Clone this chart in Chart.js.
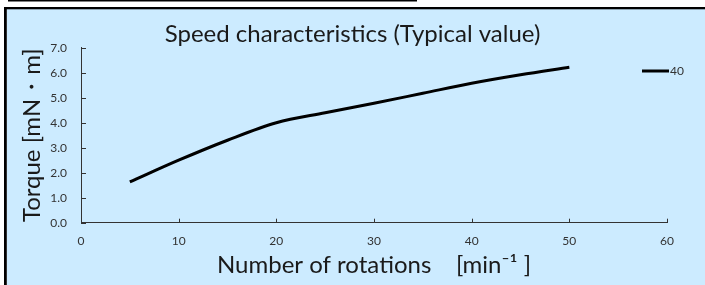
<!DOCTYPE html>
<html>
<head>
<meta charset="utf-8">
<script src="https://cdn.jsdelivr.net/npm/chart.js@4.4.1/dist/chart.umd.min.js"></script>
<style>
  html, body { margin: 0; padding: 0; background: #fff; }
  #wrap { width: 705px; height: 285px; position: relative; }
</style>
</head>
<body>
<div id="wrap"><canvas id="c"></canvas></div>
<script>
// speed characteristics, torque vs rotations
var rotations = [5, 10, 15, 20, 25, 30, 35, 40, 45, 50]
var torque = [1.63, 2.5, 3.3, 4.0, 4.4, 4.78, 5.18, 5.58, 5.92, 6.22]
var seriesLabel = "40"

var xTicks = [0, 10, 20, 30, 40, 50, 60]
var yTicks = [0, 1, 2, 3, 4, 5, 6, 7]

var bg_color = "#CCEBFF"
var text_color = "#333333"
var font_family = "Lato, 'Open Sans', sans-serif"

// panel background + black frame like the sheet it came from
const framePlugin = {
    id: 'frame',
    beforeDraw: (chart) => {
        const {ctx} = chart
        ctx.save()
        ctx.fillStyle = "#fff"
        ctx.fillRect(0, 0, chart.width, chart.height)
        ctx.fillStyle = bg_color
        ctx.fillRect(7, 9, chart.width - 7, chart.height - 9)
        ctx.fillStyle = "#000"
        ctx.fillRect(8, 0, 409, 1.5)
        ctx.fillRect(4, 7, chart.width - 4, 2.3)
        ctx.fillRect(4, 7, 2.8, chart.height - 7)
        ctx.restore()
    }
}

// small tick marks pointing into the plot
const innerTicks = {
    id: 'innerTicks',
    afterDatasetsDraw: (chart) => {
        const {ctx, chartArea} = chart
        const xs = chart.scales.x, ys = chart.scales.y
        ctx.save()
        ctx.strokeStyle = text_color
        ctx.lineWidth = 1
        ctx.beginPath()
        xTicks.forEach(v => {
            const px = Math.round(xs.getPixelForValue(v)) + 0.5
            ctx.moveTo(px, chartArea.bottom)
            ctx.lineTo(px, chartArea.bottom - 4)
        })
        yTicks.forEach(v => {
            const py = Math.round(ys.getPixelForValue(v)) + 0.5
            ctx.moveTo(chartArea.left, py)
            ctx.lineTo(chartArea.left + 5, py)
        })
        ctx.stroke()
        ctx.restore()
    }
}

// legend sample sitting at the right edge
const sideLegend = {
    id: 'sideLegend',
    afterDraw: (chart) => {
        const {ctx} = chart
        const ds = chart.data.datasets[0]
        ctx.save()
        ctx.strokeStyle = ds.borderColor
        ctx.lineWidth = 3
        ctx.beginPath()
        ctx.moveTo(642, 71)
        ctx.lineTo(669, 71)
        ctx.stroke()
        ctx.fillStyle = text_color
        ctx.font = "12px " + font_family
        ctx.textBaseline = "middle"
        ctx.fillText(ds.label, 670, 71.5)
        ctx.restore()
    }
}

var config = {
    type: 'line',
    data: {
        datasets: [{
            label: seriesLabel,
            data: rotations.map((r, i) => ({x: r, y: torque[i]})),
            borderColor: "#000",
            borderWidth: 3,
            pointRadius: 0,
            cubicInterpolationMode: 'monotone',
            fill: false
        }]
    },
    options: {
        responsive: true,
        maintainAspectRatio: false,
        animation: false,
        layout: { padding: 0 },
        plugins: {
            legend: { display: false },
            tooltip: { enabled: false },
            title: {
                display: true,
                text: "Speed characteristics (Typical value)",
                color: "#1a1a1a",
                font: { family: font_family, size: 24, weight: 'normal', lineHeight: 1.15 },
                padding: { top: 20.2, bottom: 0 }
            }
        },
        scales: {
            x: {
                type: 'linear',
                min: 0, max: 60,
                afterFit: s => { s.height = 62.3 },
                afterBuildTicks: s => { s.ticks = xTicks.map(v => ({value: v})) },
                grid: { drawOnChartArea: false, drawTicks: false },
                border: { display: true, color: text_color, width: 1 },
                ticks: { color: text_color, padding: 11, maxRotation: 0,
                         font: { family: font_family, size: 12 } },
                title: {
                    display: true,
                    text: "Number of rotations    [min\u207B\u00B9 ]",
                    color: "#1a1a1a",
                    font: { family: font_family, size: 24, lineHeight: 1.2 },
                    padding: { top: 0, bottom: 5.6 }
                }
            },
            y: {
                min: 0, max: 7,
                afterFit: s => { s.width = 81 },
                afterBuildTicks: s => { s.ticks = yTicks.map(v => ({value: v})) },
                grid: { drawOnChartArea: false, drawTicks: false },
                border: { display: true, color: text_color, width: 1 },
                ticks: { color: text_color, padding: 14,
                         font: { family: font_family, size: 12 },
                         callback: v => v.toFixed(1) },
                title: {
                    display: true,
                    text: "Torque [mN\u30FBm]",
                    color: "#1a1a1a",
                    font: { family: font_family, size: 24, lineHeight: 1.2 },
                    padding: { top: 18.1, bottom: 0 }
                }
            },
            // empty right axis, only keeps room for the legend
            yr: {
                position: 'right',
                display: true,
                afterFit: s => { s.width = 38 },
                grid: { display: false },
                border: { display: false },
                ticks: { display: false }
            }
        }
    },
    plugins: [framePlugin, innerTicks, sideLegend]
}

var chart = new Chart(document.getElementById('c'), config)
</script>
</body>
</html>
